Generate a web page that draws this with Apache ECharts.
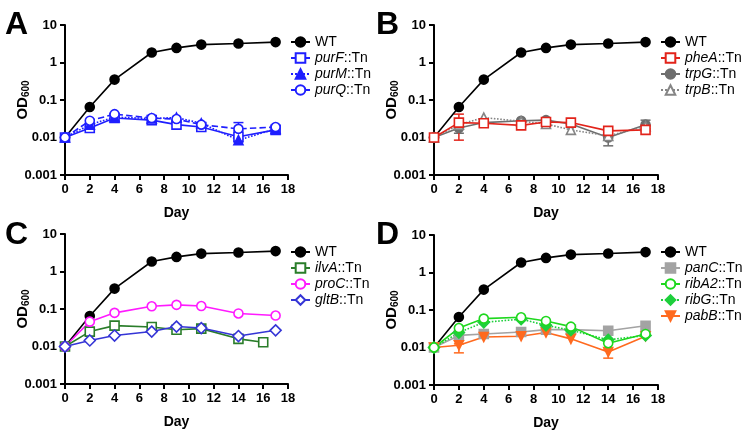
<!DOCTYPE html>
<html>
<head>
<meta charset="utf-8">
<script src="https://cdn.jsdelivr.net/npm/echarts@6/dist/echarts.min.js"></script>
<style>
  html, body { margin: 0; padding: 0; background: #fff; }
  #chart { width: 750px; height: 439px; }
</style>
</head>
<body>
<div id="chart"></div>
<script>
// days sampled
const days = [0, 2, 4, 7, 9, 11, 14, 17]
const daysIlvA = [0, 2, 4, 7, 9, 11, 14, 16]

// OD600 values
const wt = [0.01, 0.065, 0.35, 1.85, 2.45, 3.0, 3.2, 3.5]

const purF = [0.01, 0.018, 0.033, 0.029, 0.022, 0.019, 0.0105, 0.016]
const purM = [0.01, 0.022, 0.035, 0.032, 0.034, 0.024, 0.0085, 0.017]
const purQ = [0.01, 0.028, 0.042, 0.033, 0.031, 0.022, 0.017, 0.019]

const pheA = [0.01, 0.025, 0.024, 0.021, 0.026, 0.025, 0.015, 0.016]
const trpG = [0.01, 0.018, 0.025, 0.028, 0.029, 0.023, 0.010, 0.022]
const trpB = [0.01, 0.022, 0.034, 0.027, 0.023, 0.016, 0.011, 0.020]

const ilvA = [0.01, 0.025, 0.036, 0.033, 0.028, 0.030, 0.016, 0.013]
const proC = [0.01, 0.046, 0.079, 0.118, 0.129, 0.120, 0.076, 0.067]
const gltB = [0.01, 0.0145, 0.0196, 0.025, 0.034, 0.031, 0.019, 0.027]

const panC = [0.01, 0.021, 0.023, 0.026, 0.030, 0.030, 0.028, 0.038]
const ribA2 = [0.01, 0.033, 0.059, 0.064, 0.051, 0.036, 0.013, 0.023]
const ribG = [0.01, 0.025, 0.047, 0.057, 0.039, 0.029, 0.016, 0.021]
const pabB = [0.01, 0.0115, 0.019, 0.020, 0.025, 0.017, 0.0076, 0.020]

// error bars: [day, low, high]
const errA = [[14, 0.0075, 0.011], [14, 0.015, 0.025]]
const errB = [[2, 0.0085, 0.042], [2, 0.013, 0.02], [14, 0.006, 0.016], [17, 0.017, 0.029]]
const errD = [[2, 0.0072, 0.0125], [14, 0.0052, 0.009]]

const yTicks = ['0.001', '0.01', '0.1', '1', '10']
const panels = ['A', 'B', 'C', 'D']

const grids = [
  { left: 65, top: 25, width: 223, height: 150 },
  { left: 434, top: 25, width: 224, height: 150 },
  { left: 65, top: 234, width: 223, height: 150 },
  { left: 434, top: 235, width: 224, height: 150 }
]

const pair = (xs, ys) => xs.map((x, i) => [x, ys[i]])

function lineSeries(name, idx, xs, ys, color, symbol, filled, lineType) {
  return {
    name: name,
    type: 'line',
    xAxisIndex: idx,
    yAxisIndex: idx,
    data: pair(xs, ys),
    symbol: symbol,
    symbolSize: symbol === 'diamond' ? 11 : 9,
    showAllSymbol: true,
    lineStyle: { color: color, width: 1.6, type: lineType || 'solid' },
    itemStyle: { color: filled ? color : '#fff', borderColor: color, borderWidth: 1.6 },
    emphasis: { disabled: true },
    z: 3
  }
}

function errSeries(idx, data, color) {
  return {
    type: 'custom',
    xAxisIndex: idx,
    yAxisIndex: idx,
    data: data,
    silent: true,
    z: 2,
    renderItem: (params, api) => {
      let lo = api.coord([api.value(0), api.value(1)])
      let hi = api.coord([api.value(0), api.value(2)])
      let s = { stroke: color, lineWidth: 1.5 }
      return {
        type: 'group',
        children: [
          { type: 'line', shape: { x1: lo[0], y1: lo[1], x2: hi[0], y2: hi[1] }, style: s },
          { type: 'line', shape: { x1: lo[0] - 5, y1: lo[1], x2: lo[0] + 5, y2: lo[1] }, style: s },
          { type: 'line', shape: { x1: hi[0] - 5, y1: hi[1], x2: hi[0] + 5, y2: hi[1] }, style: s }
        ]
      }
    }
  }
}

const wtSeries = idx => lineSeries('WT', idx, days, wt, '#000', 'circle', true)

const series = [
  wtSeries(0),
  lineSeries('purF::Tn', 0, days, purF, '#1f1fff', 'rect', false, 'solid'),
  lineSeries('purM::Tn', 0, days, purM, '#1f1fff', 'triangle', true, 'dotted'),
  lineSeries('purQ::Tn', 0, days, purQ, '#1f1fff', 'circle', false, 'dashed'),
  errSeries(0, errA, '#1f1fff'),

  wtSeries(1),
  lineSeries('trpG::Tn', 1, days, trpG, '#6e6e6e', 'circle', true, 'solid'),
  lineSeries('trpB::Tn', 1, days, trpB, '#858585', 'triangle', false, 'dotted'),
  lineSeries('pheA::Tn', 1, days, pheA, '#e2231a', 'rect', false, 'solid'),
  errSeries(1, errB.slice(1), '#6e6e6e'),
  errSeries(1, errB.slice(0, 1), '#e2231a'),

  wtSeries(2),
  lineSeries('ilvA::Tn', 2, daysIlvA, ilvA, '#2a7d2a', 'rect', false, 'solid'),
  lineSeries('proC::Tn', 2, days, proC, '#ff1aff', 'circle', false, 'solid'),
  lineSeries('gltB::Tn', 2, days, gltB, '#3535d6', 'diamond', false, 'solid'),

  wtSeries(3),
  lineSeries('panC::Tn', 3, days, panC, '#a3a3a3', 'rect', true, 'solid'),
  lineSeries('pabB::Tn', 3, days, pabB, '#ff6a1f', 'triangle', true, 'solid'),
  lineSeries('ribG::Tn', 3, days, ribG, '#1ecf3c', 'diamond', true, 'dotted'),
  lineSeries('ribA2::Tn', 3, days, ribA2, '#1ed81e', 'circle', false, 'solid'),
  errSeries(3, errD, '#ff6a1f')
]
// pabB triangle points down
series.find(s => s.name === 'pabB::Tn').symbolRotate = 180

const legendData = [
  ['WT', 'purF::Tn', 'purM::Tn', 'purQ::Tn'],
  ['WT', 'pheA::Tn', 'trpG::Tn', 'trpB::Tn'],
  ['WT', 'ilvA::Tn', 'proC::Tn', 'gltB::Tn'],
  ['WT', 'panC::Tn', 'ribA2::Tn', 'ribG::Tn', 'pabB::Tn']
]
const legendPos = [[290, 35], [660, 35], [290, 245], [660, 245]]

const axisLine = { show: true, lineStyle: { color: '#000', width: 2 } }
const labelStyle = { color: '#000', fontWeight: 'bold', fontSize: 13, fontFamily: 'Liberation Sans, Arial' }

const chart = echarts.init(document.getElementById('chart'), null, { renderer: 'canvas' })
chart.setOption({
  animation: false,
  backgroundColor: '#fff',
  title: panels.map((p, i) => ({
    text: p,
    left: i % 2 ? 376 : 5,
    top: i < 2 ? 9 : 219,
    padding: 0,
    textStyle: { fontSize: 32, fontWeight: 'bold', color: '#000', fontFamily: 'Liberation Sans, Arial' }
  })),
  grid: grids,
  legend: legendData.map((d, i) => ({
    data: d,
    orient: 'vertical',
    left: legendPos[i][0],
    top: legendPos[i][1],
    padding: 0,
    itemWidth: 19,
    itemHeight: 12,
    itemGap: 2,
    selectedMode: false,
    textStyle: {
      fontSize: 14, color: '#000', fontFamily: 'Liberation Sans, Arial',
      rich: { it: { fontStyle: 'italic', fontSize: 14, color: '#000', fontFamily: 'Liberation Sans, Arial' } }
    },
    formatter: name => {
      if (name === 'WT') return 'WT'
      let parts = name.split('::')
      return '{it|' + parts[0] + '}::' + parts[1]
    }
  })),
  xAxis: grids.map((g, i) => ({
    type: 'value',
    gridIndex: i,
    min: 0,
    max: 18,
    interval: 2,
    name: 'Day',
    nameLocation: 'middle',
    nameGap: 31,
    nameTextStyle: { color: '#000', fontWeight: 'bold', fontSize: 14, fontFamily: 'Liberation Sans, Arial' },
    axisLine: axisLine,
    axisTick: { show: true, length: 5, lineStyle: { color: '#000', width: 2 } },
    axisLabel: labelStyle,
    splitLine: { show: false }
  })),
  yAxis: grids.map((g, i) => ({
    type: 'log',
    logBase: 10,
    gridIndex: i,
    min: 0.001,
    max: 10,
    name: 'OD{sub|600}',
    nameLocation: 'middle',
    nameGap: 34,
    nameMoveOverlap: false,
    nameTextStyle: {
      color: '#000', fontWeight: 'bold', fontSize: 15, fontFamily: 'Liberation Sans, Arial',
      rich: { sub: { fontSize: 10, fontWeight: 'bold', color: '#000', verticalAlign: 'bottom', padding: [6, 0, 0, 0] } }
    },
    axisLine: axisLine,
    axisTick: { show: true, length: 5, lineStyle: { color: '#000', width: 2 } },
    axisLabel: Object.assign({}, labelStyle, {
      formatter: v => yTicks.find(t => Math.abs(Math.log10(+t) - Math.log10(v)) < 1e-6) || ''
    }),
    splitLine: { show: false }
  })),
  series: series
})
</script>
</body>
</html>
